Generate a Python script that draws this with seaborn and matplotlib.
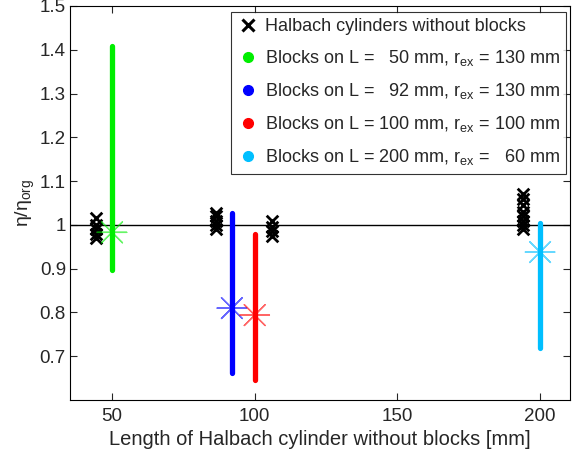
import numpy as np
import pandas as pd
import seaborn as sns
import matplotlib.pyplot as plt
from matplotlib.lines import Line2D

# reference cylinders (no blocks): x positions and stacked eta values
ref_x = [44.5, 44.5, 44.5, 44.5, 44.5,
         86.5, 86.5, 86.5, 86.5, 86.5,
         106, 106, 106, 106,
         194, 194, 194, 194, 194, 194, 194, 194]
ref_y = [0.97, 0.98, 0.99, 1.00, 1.015,
         0.99, 1.00, 1.01, 1.02, 1.027,
         0.975, 0.985, 0.995, 1.01,
         0.99, 1.00, 1.01, 1.02, 1.03, 1.045, 1.06, 1.07]

# blocks series: length, spread of eta (min / max) and mean
labels = ["Blocks on L =   50 mm, r$_{\\rm ex}$ = 130 mm",
          "Blocks on L =   92 mm, r$_{\\rm ex}$ = 130 mm",
          "Blocks on L = 100 mm, r$_{\\rm ex}$ = 100 mm",
          "Blocks on L = 200 mm, r$_{\\rm ex}$ =   60 mm"]
lengths = [50, 92, 100, 200]
eta_min = [0.897, 0.661, 0.645, 0.72]
eta_max = [1.409, 1.027, 0.98, 1.004]
eta_mean = [0.983, 0.81, 0.794, 0.938]
colors = ["#00ee00", "#0000ff", "#ff0000", "#00bfff"]

sns.set_style("ticks")
plt.rcParams['font.family'] = ['Liberation Sans', 'DejaVu Sans']
plt.rcParams['mathtext.fontset'] = 'custom'
plt.rcParams['mathtext.rm'] = 'Liberation Sans'
plt.rcParams['mathtext.default'] = 'regular'

fig = plt.figure(figsize=(5.79, 4.5), dpi=100)
ax = fig.add_axes([0.121, 0.111, 0.8635, 0.8757])

ax.axhline(1.0, color="black", lw=1, zorder=1)

# spread columns
spread = pd.DataFrame({
    "L": np.repeat(lengths, 2),
    "eta": np.ravel(np.column_stack([eta_min, eta_max])),
    "grp": np.repeat(labels, 2),
})
for lab, c in zip(labels, colors):
    d = spread[spread.grp == lab]
    ax.plot(d.L, d.eta, color=c, lw=3.8, solid_capstyle="round", zorder=2)

sns.scatterplot(x=ref_x, y=ref_y, marker="x", color="black", s=70,
                linewidth=2, ax=ax, zorder=3)

# mean markers
mean_df = pd.DataFrame({"L": lengths, "eta": eta_mean, "grp": labels})
sns.scatterplot(data=mean_df, x="L", y="eta", hue="grp", palette=colors,
                marker=(8, 2, 0), s=450, linewidth=1, alpha=0.6,
                legend=False, ax=ax, zorder=4)

ax.set_xlim(35.3, 210.5)
ax.set_ylim(0.6, 1.5)
ax.set_xticks([50, 100, 150, 200])
ax.set_yticks([0.7, 0.8, 0.9, 1.0, 1.1, 1.2, 1.3, 1.4, 1.5])
ax.set_yticklabels(["0.7", "0.8", "0.9", "1", "1.1", "1.2", "1.3", "1.4", "1.5"])
ax.tick_params(direction="in", top=True, right=True, length=5,
               labelsize=13.5, width=0.8, pad=3)
ax.tick_params(axis="x", pad=6)
for s in ax.spines.values():
    s.set_visible(True)
    s.set_linewidth(0.8)
    s.set_color("black")

ax.set_xlabel("Length of Halbach cylinder without blocks [mm]", fontsize=14.5, labelpad=3)
ax.set_ylabel("$\\eta/\\eta_{\\rm org}$", fontsize=14, labelpad=2)

handles = [Line2D([], [], marker="x", color="black", ls="none",
                  markersize=9, markeredgewidth=2.2)]
for c in colors:
    handles.append(Line2D([], [], marker="o", color=c, ls="none", markersize=7))
leg = ax.legend(handles, ["Halbach cylinders without blocks"] + labels,
                loc="upper right", bbox_to_anchor=(0.992, 0.985),
                borderaxespad=0, fontsize=13, frameon=True, fancybox=False,
                edgecolor="black", handletextpad=0.3, handlelength=1.2,
                labelspacing=0.72, borderpad=0.35)
leg.get_frame().set_linewidth(0.8)

fig.savefig("out.png", dpi=100)
